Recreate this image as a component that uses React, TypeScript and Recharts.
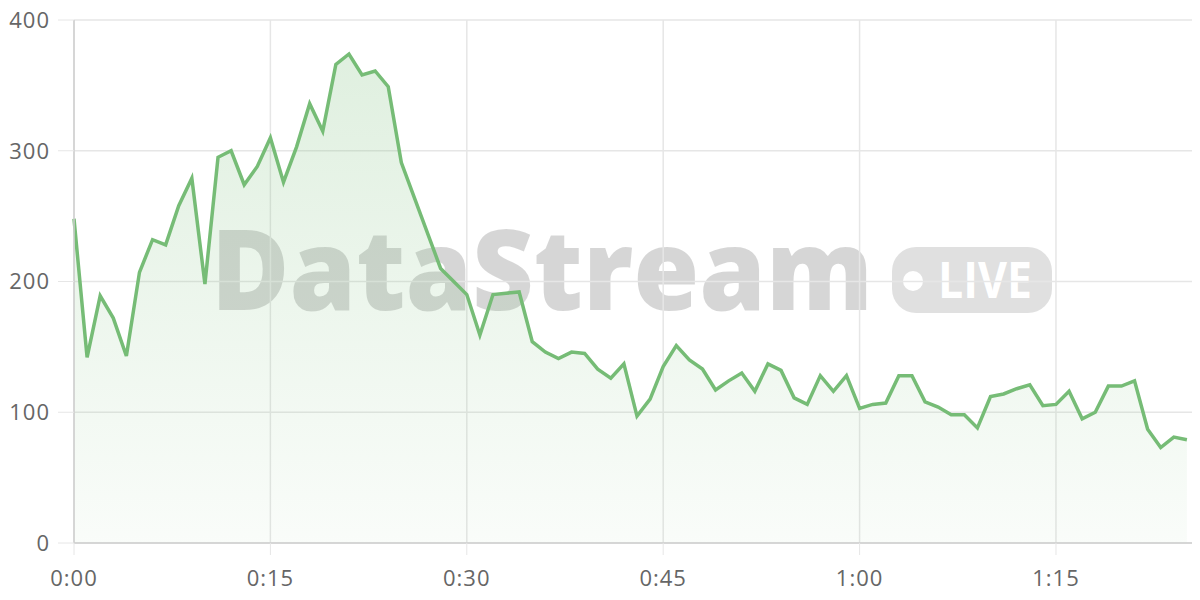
import { Area, AreaChart, CartesianGrid, XAxis, YAxis } from 'recharts';

// one reading per minute, 0:00 .. 1:25
const values = [
  248, 142, 189, 172, 143, 207, 232, 228, 258, 279,
  198, 295, 300, 274, 288, 310, 276, 303, 336, 315,
  366, 374, 358, 361, 349, 291, 264, 237, 210, 200,
  190, 159, 190, 191, 192, 154, 146, 141, 146, 145,
  133, 126, 137, 97, 110, 135, 151, 140, 133, 117,
  124, 130, 116, 137, 132, 111, 106, 128, 116, 128,
  103, 106, 107, 128, 128, 108, 104, 98, 98, 88,
  112, 114, 118, 121, 105, 106, 116, 95, 100, 120,
  120, 124, 87, 73, 81, 79,
];

const xTicks = [0, 15, 30, 45, 60, 75];
const xTickLabels = ['0:00', '0:15', '0:30', '0:45', '1:00', '1:15'];
const yTicks = [0, 100, 200, 300, 400];

const data = values.map((value, minute) => ({ minute, value }));

const tickStyle = { fill: '#666', fontSize: 22, fontFamily: 'Open Sans, sans-serif', letterSpacing: 1 };

const Watermark = () => (
  <svg width={1200} height={600} style={{ position: 'absolute', left: 0, top: 0 }}>
    <text
      x={211}
      y={310}
      fontSize={112}
      fontWeight={800}
      fontFamily="Open Sans, sans-serif"
      fill="rgba(0,0,0,0.16)"
      textLength={662}
      lengthAdjust="spacingAndGlyphs"
    >
      DataStream
    </text>
    <rect x={892} y={247} width={160} height={66} rx={24} fill="rgba(0,0,0,0.12)" />
    <circle cx={913} cy={281} r={10} fill="#fff" />
    <text
      x={938}
      y={298}
      fontSize={50}
      fontWeight={700}
      fontFamily="Open Sans, sans-serif"
      fill="#fff"
      textLength={94}
      lengthAdjust="spacingAndGlyphs"
    >
      LIVE
    </text>
  </svg>
);

const App = () => {
  return (
    <div style={{ position: 'relative', width: 1200, height: 600, margin: -8, background: '#fff' }}>
      <Watermark />
      <div style={{ position: 'absolute', left: 0, top: 0 }}>
        <AreaChart width={1200} height={600} data={data} margin={{ top: 20, right: 0, left: 0, bottom: 0 }}>
          <defs>
            <linearGradient id="fillGreen" x1="0" y1="0" x2="0" y2="1">
              <stop offset="0%" stopColor="#7cbf7c" stopOpacity={0.4} />
              <stop offset="100%" stopColor="#7cbf7c" stopOpacity={0.07} />
            </linearGradient>
          </defs>
          <CartesianGrid stroke="#e6e6e6" strokeWidth={1.5} />
          <XAxis
            dataKey="minute"
            type="number"
            domain={[0, 86]}
            ticks={xTicks}
            tickFormatter={(v: number) => xTickLabels[xTicks.indexOf(v)]}
            height={57}
            tickSize={12}
            tickMargin={15}
            tick={tickStyle}
            tickLine={{ stroke: '#e6e6e6' }}
            axisLine={{ stroke: '#cfcfcf', strokeWidth: 1.5 }}
          />
          <YAxis
            domain={[0, 400]}
            ticks={yTicks}
            width={74}
            tickSize={16}
            tickMargin={8}
            tick={tickStyle}
            tickLine={{ stroke: '#e6e6e6' }}
            axisLine={{ stroke: '#cfcfcf', strokeWidth: 1.5 }}
          />
          <Area
            type="linear"
            dataKey="value"
            stroke="#76bc76"
            strokeWidth={3.5}
            fill="url(#fillGreen)"
            isAnimationActive={false}
            dot={false}
            activeDot={false}
          />
        </AreaChart>
      </div>
    </div>
  );
};

export default App;
